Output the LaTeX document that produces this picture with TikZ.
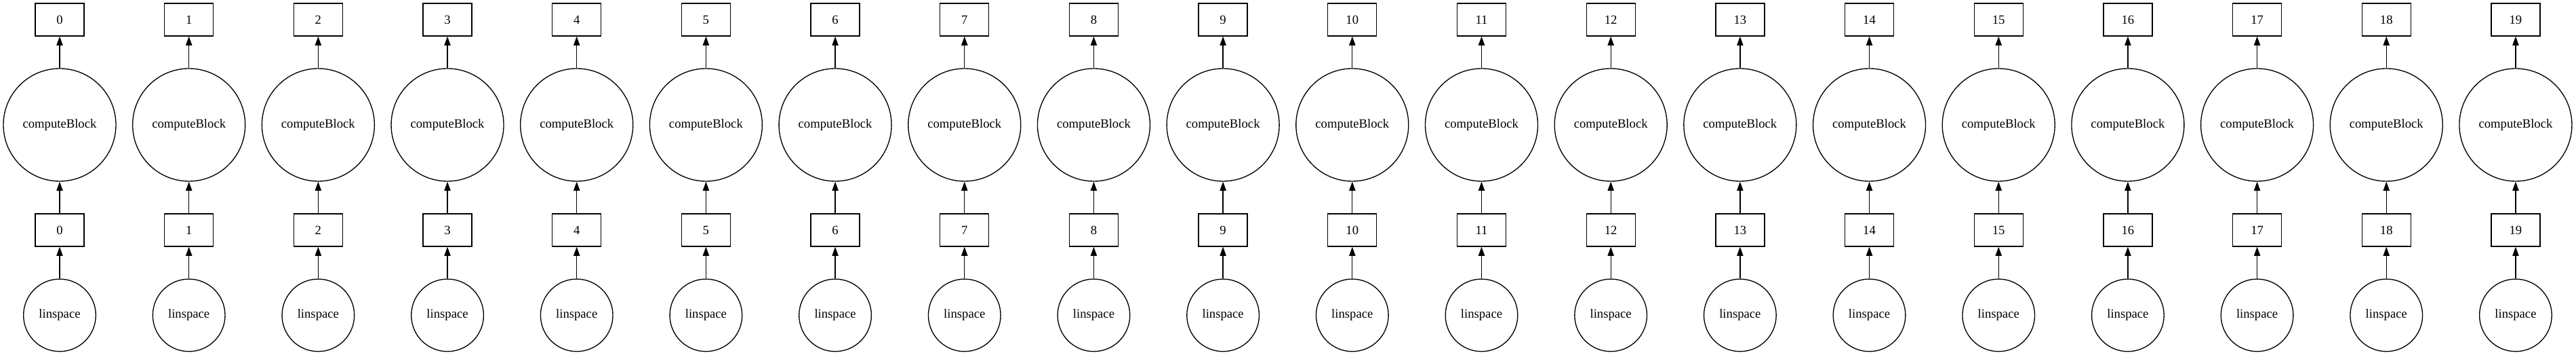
\documentclass[tikz,border=0pt]{standalone}
\usepackage{fontspec}
\setmainfont{Liberation Serif}
\usetikzlibrary{arrows.meta}

\begin{document}
\begin{tikzpicture}[x=1pt,y=1pt,line width=1pt,
    font=\fontsize{14pt}{16pt}\selectfont,
    keybox/.style={draw,rectangle,minimum width=54pt,minimum height=36pt,inner sep=0pt},
    taskbig/.style={draw,circle,minimum size=124.5pt,inner sep=0pt},
    tasksmall/.style={draw,circle,minimum size=80pt,inner sep=0pt},
    dep/.style={-{Triangle[length=10pt,width=7pt]}}]
            \useasboundingbox (0,0) rectangle (2850,392.25);
            \foreach \i in {0,...,19} {
              \pgfmathsetmacro{\colx}{66+\i*143.01}
              \node[keybox] (out\i) at (\colx,370.5) {\i};
              \node[taskbig] (cb\i) at (\colx,254.25) {computeBlock};
              \node[keybox] (blk\i) at (\colx,138) {\i};
              \node[tasksmall] (lin\i) at (\colx,43.9) {linspace};
              \draw[dep] (lin\i) -- (blk\i);
              \draw[dep] (blk\i) -- (cb\i);
              \draw[dep] (cb\i) -- (out\i);
            }
          \end{tikzpicture}
\end{document}
